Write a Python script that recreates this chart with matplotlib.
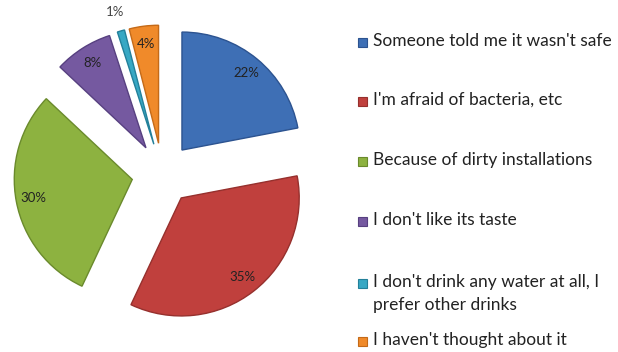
import matplotlib
matplotlib.use('Agg')
import matplotlib.pyplot as plt
from matplotlib.patches import Rectangle
import numpy as np

# Reasons for not drinking tap water (% of answers)
reasons = ["Someone told me it wasn't safe",
           "I'm afraid of bacteria, etc",
           "Because of dirty installations",
           "I don't like its taste",
           "I don't drink any water at all, I\nprefer other drinks",
           "I haven't thought about it"]
shares = [22, 35, 30, 8, 1, 4]

colors = ['#3E6FB5', '#C0403D', '#8DB240', '#7559A0', '#37A8C4', '#F08A2A']
edges = ['#2C5390', '#96302D', '#6A8A2C', '#574080', '#23809A', '#C46A18']

plt.rcParams['font.family'] = ['Lato', 'DejaVu Sans']

W, H = 618, 352
fig = plt.figure(figsize=(W / 100, H / 100), dpi=100)
ax = fig.add_axes([0, 0, 1, 1])

wedges, texts, autotexts = ax.pie(
    shares, colors=colors, startangle=90, counterclock=False,
    explode=[0.26] * len(shares), autopct='%1.0f%%', pctdistance=0.85,
    wedgeprops=dict(linewidth=1.0), textprops=dict(fontsize=9.5, color='#222222'))

for w, ec in zip(wedges, edges):
    w.set_edgecolor(ec)

# the 1% slice is too thin for its label, put it outside
w = wedges[4]
mid = np.deg2rad((w.theta1 + w.theta2) / 2)
cx, cy = w.center
autotexts[4].set_position((cx + 1.17 * np.cos(mid), cy + 1.17 * np.sin(mid)))
autotexts[4].set_color('#444444')

# pie centre sits at pixel (162, 174), radius 118 px
px = 118.0
ax.set_xlim(-162.4 / px, (W - 162.4) / px)
ax.set_ylim(-(H - 173.7) / px, 173.7 / px)
ax.axis('off')

# legend on the right
rows = [42, 101, 161, 221, 283, 341]
for lab, c, ec, y in zip(reasons, colors, edges, rows):
    fig.patches.append(Rectangle(((358) / W, 1 - (y + 4.5) / H), 9 / W, 9 / H,
                                 transform=fig.transFigure, facecolor=c,
                                 edgecolor=ec, linewidth=0.8))
    fig.text(373 / W, 1 - (y - 9) / H, lab, fontsize=12.5, color='#222222',
             va='top', ha='left', linespacing=1.55)

fig.savefig('out.png', dpi=100)
